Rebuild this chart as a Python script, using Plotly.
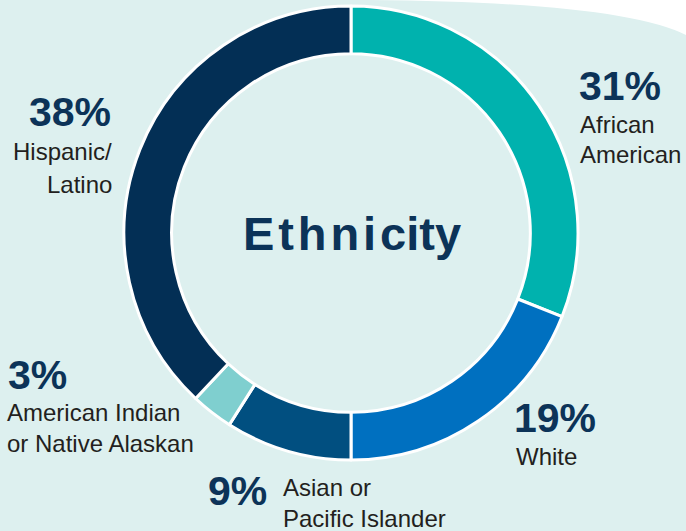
import plotly.graph_objects as go

categories = ["African American", "White", "Asian or Pacific Islander",
              "American Indian or Native Alaskan", "Hispanic/Latino"]
values = [31, 19, 9, 3, 38]
colors = ["#00b2ae", "#0070c0", "#014f80", "#7fcfcf", "#032f55"]

W, H = 686, 531
BG = "#ddf0ef"
NAVY = "#0c3358"
GRAY = "#231f20"

fig = go.Figure()
fig.add_trace(go.Pie(
    labels=categories, values=values, sort=False, direction="clockwise",
    rotation=0, hole=0.79, textinfo="none", hoverinfo="label+percent",
    marker=dict(colors=colors, line=dict(color="white", width=3)),
    domain=dict(x=[124/W, 578/W], y=[(H-460)/H, (H-6)/H]),
    showlegend=False,
))

def px(x, y):
    return x / W, 1 - y / H

ann = []
def add(text, x, y, size, color, bold=False, xanchor="left"):
    xx, yy = px(x, y)
    ann.append(dict(text=f"<b>{text}</b>" if bold else text, x=xx, y=yy,
                    xref="paper", yref="paper", xanchor=xanchor, yanchor="middle",
                    showarrow=False,
                    font=dict(family="Liberation Sans, Arial, sans-serif", size=size, color=color)))

pct = [f"{v}%" for v in values]
S = 24
# African American
add(pct[0], 577, 86, 41, NAVY, True)
add("African", 578, 124, S, GRAY)
add("American", 578, 155, S, GRAY)
# White
add(pct[1], 512, 418, 41, NAVY, True)
add("White", 514, 456, S, GRAY)
# Asian
add(pct[2], 269, 491, 41, NAVY, True, "right")
add("Asian or", 281, 487, S, GRAY)
add("Pacific Islander", 281, 518, S, GRAY)
# American Indian
add(pct[3], 6, 375, 41, NAVY, True)
add("American Indian", 5, 412, S, GRAY)
add("or Native Alaskan", 5, 443, S, GRAY)
# Hispanic
add(pct[4], 113, 112, 41, NAVY, True, "right")
add("Hispanic/", 114, 151, S, GRAY, False, "right")
add("Latino", 114, 184, S, GRAY, False, "right")
# center title
add("E\u200at\u200ah\u200an\u200ai\u200acity", 352, 233, 47, NAVY, True, "center")

fig.update_layout(
    width=W, height=H, margin=dict(l=0, r=0, t=0, b=0),
    paper_bgcolor=BG, plot_bgcolor=BG, annotations=ann,
    shapes=[dict(type="path", xref="paper", yref="paper",
                 path=f"M {370/W},1 Q {620/W},{1-2/H} 1,{1-35/H} L 1,1 Z",
                 fillcolor="white", line=dict(width=0), layer="below")],
)

fig.write_html("out.html", config={"displayModeBar": False},
               post_script="document.body.style.margin='0';document.body.style.overflow='hidden';")
